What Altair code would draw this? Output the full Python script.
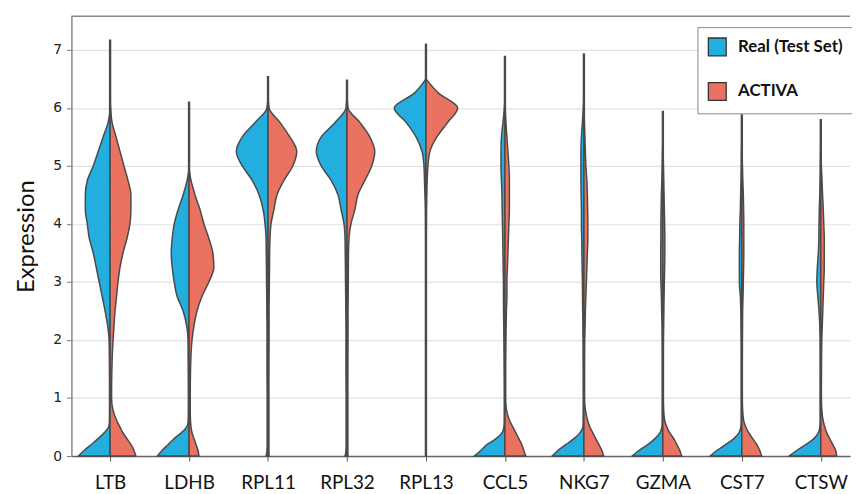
import altair as alt
import pandas as pd

# ---- data ----
GENES = ["LTB", "LDHB", "RPL11", "RPL32", "RPL13", "CCL5", "NKG7", "GZMA", "CST7", "CTSW"]
SERIES = ["Real (Test Set)", "ACTIVA"]
COLORS = ["#23AEE0", "#EA7260"]

# top of the thin violin tail (max expression) per gene
LINE_TOP = [7.18, 6.11, 6.55, 6.49, 7.11, 6.90, 6.94, 5.95, 5.89, 5.81]

# expression levels at which the half-violin widths were read
Y_LEVELS = [0, 0.1, 0.2, 0.3, 0.4, 0.5, 0.6, 0.8, 1.0, 1.5, 2.0, 2.25, 2.5, 2.75, 3.0,
            3.25, 3.5, 3.75, 4.0, 4.25, 4.5, 4.75, 5.0, 5.25, 5.5, 5.75, 6.0, 6.25, 6.5]

# half-violin density widths (relative units) for Real (Test Set)
REAL_LTB = [32, 26, 19, 12, 6, 1.5, 0.6, 0.5, 0.5, 0.6, 1, 2.5, 5, 8, 11, 14, 17, 21, 23, 25, 25, 23, 17, 12, 7, 2, 0, 0, 0]
REAL_LDHB = [32, 27, 21, 15, 8, 2.5, 0.8, 0.6, 0.6, 0.8, 1, 2.5, 6, 12, 15, 17, 18, 17, 15, 11, 6, 2, 0, 0, 0, 0, 0, 0, 0]
REAL_RPL11 = [2, 1, 0.8, 0.8, 0.8, 0.8, 0.8, 0.8, 0.8, 1, 1, 1, 1.2, 1.3, 1.5, 1.6, 1.8, 2, 3, 5, 9, 16, 26, 32, 26, 13, 1, 0, 0]
REAL_RPL32 = [2, 1, 0.8, 0.8, 0.8, 0.8, 0.8, 0.8, 0.8, 1, 1, 1, 1.2, 1.3, 1.5, 1.6, 1.8, 2, 3, 6, 9, 16, 26, 31, 26, 12, 1, 0, 0]
REAL_RPL13 = [0.3, 0.3, 0.3, 0.3, 0.3, 0.3, 0.3, 0.3, 0.3, 0.3, 0.3, 0.3, 0.3, 0.3, 0.3, 0.3, 0.3, 0.3, 0.4, 0.5, 1, 1.5, 2, 4, 10, 20, 32, 12, 0]
REAL_CCL5 = [31, 24, 18, 9, 3, 1, 0.6, 0.5, 0.5, 0.7, 1, 1.2, 1.4, 1.5, 1.5, 1.8, 2, 2.2, 2.5, 2.8, 3, 3.5, 4, 4, 3.5, 2, 0.5, 0, 0]
REAL_NKG7 = [32, 26, 18, 10, 4, 1, 0.6, 0.5, 0.5, 0.6, 0.8, 1, 1.2, 1.4, 1.5, 1.8, 2, 2.2, 2.5, 2.5, 2.8, 3, 3, 3, 2.5, 1.5, 0.5, 0, 0]
REAL_GZMA = [31, 24, 15, 8, 3, 1, 0.5, 0.5, 0.5, 0.5, 0.6, 0.8, 1.2, 1.5, 2, 2.2, 2.2, 2, 2, 1.8, 1.5, 1, 0.6, 0.3, 0, 0, 0, 0, 0]
REAL_CST7 = [32, 25, 16, 8, 3, 1, 0.5, 0.5, 0.5, 0.5, 0.6, 0.8, 1, 1.5, 2.5, 2.5, 2.5, 2.2, 2, 1.5, 1.2, 0.8, 0.5, 0.3, 0, 0, 0, 0, 0]
REAL_CTSW = [32, 24, 15, 7, 2.5, 1, 0.5, 0.5, 0.5, 0.5, 0.6, 1, 1.8, 3, 4, 3.5, 2.5, 2, 1.8, 1.5, 1, 0.6, 0.4, 0.2, 0, 0, 0, 0, 0]

# half-violin density widths (relative units) for ACTIVA
ACTIVA_LTB = [26, 24, 21, 17, 13, 10, 7, 2.8, 1.5, 1.8, 3, 4, 5, 6.5, 8, 10, 13, 17, 20, 21, 21, 18, 14, 10, 6, 2, 0.5, 0, 0]
ACTIVA_LDHB = [10, 9, 7, 5, 3, 2, 1.5, 1.2, 1.2, 1.5, 3, 5, 8, 13, 20, 25, 24, 20, 15, 11, 6, 2, 0, 0, 0, 0, 0, 0, 0]
ACTIVA_RPL11 = [1, 0.8, 0.8, 0.8, 0.8, 0.8, 0.8, 0.8, 0.8, 0.8, 1, 1, 1, 1.2, 1.3, 1.5, 1.6, 2, 3, 6, 9, 16, 25, 29, 22, 12, 1, 0, 0]
ACTIVA_RPL32 = [1, 0.8, 0.8, 0.8, 0.8, 0.8, 0.8, 0.8, 0.8, 0.8, 1, 1, 1, 1.2, 1.3, 1.4, 1.5, 2, 4, 8, 11, 18, 25, 28, 23, 13, 1, 0, 0]
ACTIVA_RPL13 = [0.3, 0.3, 0.3, 0.3, 0.3, 0.3, 0.3, 0.3, 0.3, 0.3, 0.3, 0.3, 0.3, 0.3, 0.3, 0.3, 0.3, 0.3, 0.4, 0.5, 0.8, 1.2, 2, 4, 11, 22, 32, 13, 0]
ACTIVA_CCL5 = [21, 19, 17, 14, 11, 8, 5, 1.5, 0.7, 0.7, 1, 1.2, 1.5, 2, 2, 2.5, 3, 3.5, 4, 4.5, 4.5, 4.5, 4, 3, 2, 1, 0.3, 0, 0]
ACTIVA_NKG7 = [20, 18, 15, 12, 9, 6, 4, 1.5, 0.6, 0.6, 0.8, 1.2, 1.5, 2, 2.5, 3, 3.5, 4, 4, 3.8, 3.5, 3, 2, 1.5, 1, 0.5, 0.2, 0, 0]
ACTIVA_GZMA = [19, 17, 14, 11, 7, 4, 2, 0.8, 0.5, 0.5, 0.6, 0.8, 1, 1.2, 1.5, 1.8, 2, 2, 1.8, 1.5, 1.2, 0.9, 0.6, 0.3, 0, 0, 0, 0, 0]
ACTIVA_CST7 = [20, 18, 15, 11, 7, 4, 2, 0.8, 0.5, 0.5, 0.6, 0.7, 0.8, 1.2, 1.5, 1.8, 2, 2, 2, 1.8, 1.5, 1, 0.6, 0.3, 0, 0, 0, 0, 0]
ACTIVA_CTSW = [16, 15, 12, 9, 6, 4, 2.5, 1, 0.6, 0.7, 1, 1.5, 2, 2.5, 3, 3.5, 3.5, 3.5, 3, 2.5, 1.8, 1.2, 0.6, 0.3, 0, 0, 0, 0, 0]

REAL = [REAL_LTB, REAL_LDHB, REAL_RPL11, REAL_RPL32, REAL_RPL13,
        REAL_CCL5, REAL_NKG7, REAL_GZMA, REAL_CST7, REAL_CTSW]
ACTIVA = [ACTIVA_LTB, ACTIVA_LDHB, ACTIVA_RPL11, ACTIVA_RPL32, ACTIVA_RPL13,
          ACTIVA_CCL5, ACTIVA_NKG7, ACTIVA_GZMA, ACTIVA_CST7, ACTIVA_CTSW]

# ---- build tables ----
WIDTH_UNIT = 79.7  # density units per category step
rows = []
for gi, gene in enumerate(GENES):
    for series, widths, sign in ((SERIES[0], REAL[gi], -1), (SERIES[1], ACTIVA[gi], 1)):
        for yv, w in zip(Y_LEVELS, widths):
            if yv > LINE_TOP[gi]:
                continue
            rows.append({"gene": gene, "series": series, "y": yv,
                         "center": gi, "edge": gi + sign * w / WIDTH_UNIT})
violins = pd.DataFrame(rows)

tails = pd.DataFrame({"gene": GENES, "center": list(range(len(GENES))),
                      "low": [0] * len(GENES), "top": LINE_TOP})

W, H = 786, 444
xscale = alt.Scale(domain=[-0.49, 9.37], nice=False, zero=False)
yscale = alt.Scale(domain=[0, 7.58], nice=False, zero=False)

label_expr = "[" + ",".join("'%s'" % g for g in GENES) + "][datum.value]"
xaxis = alt.Axis(values=list(range(len(GENES))), labelExpr=label_expr, title=None,
                 grid=False, tickSize=5, tickColor="#555", domainColor="#666",
                 domainWidth=1.5, labelFont="Lato", labelFontSize=19,
                 labelColor="#111", labelPadding=13)
yaxis = alt.Axis(values=list(range(8)), format="d", title="Expression",
                 titleFont="Lato", titleFontSize=24, titleFontWeight="normal",
                 titleColor="#111", titlePadding=14, labelFont="DejaVu Sans",
                 labelFontSize=14, labelColor="#222", labelPadding=5, tickSize=5,
                 tickColor="#777", domainColor="#888", domainWidth=1.5,
                 grid=True, gridColor="#e2e2e2", gridWidth=1.2)

tail_layer = alt.Chart(tails).mark_rule(color="#4a4a4a", strokeWidth=2.4).encode(
    x=alt.X("center:Q", scale=xscale, axis=xaxis),
    y=alt.Y("low:Q", scale=yscale, axis=yaxis),
    y2="top:Q",
)

violin_layer = alt.Chart(violins).mark_area(
    orient="horizontal", interpolate="monotone", stroke="#4a4a4a",
    strokeWidth=1.5, fillOpacity=1, opacity=1
).encode(
    y=alt.Y("y:Q", scale=yscale),
    x=alt.X("edge:Q", scale=xscale),
    x2="center:Q",
    color=alt.Color("series:N", scale=alt.Scale(domain=SERIES, range=COLORS),
                    legend=alt.Legend(title=None, orient="none", legendX=632, legendY=11,
                                      direction="vertical", symbolType="square",
                                      symbolSize=324, symbolStrokeColor="#333",
                                      symbolStrokeWidth=1.3, symbolOpacity=1,
                                      labelFont="Lato", labelFontSize=17,
                                      labelFontWeight="bold", labelColor="#111",
                                      labelOffset=11, rowPadding=21, padding=10,
                                      fillColor="white", strokeColor="#888")),
    detail="gene:N",
)

frame = alt.Chart(pd.DataFrame({"a": [0]})).mark_rule(color="#888", strokeWidth=1.5).encode(
    x=alt.value(0), x2=alt.value(W), y=alt.value(0)
)

chart = alt.layer(tail_layer, violin_layer, frame).properties(
    width=W, height=H,
    autosize=alt.AutoSizeParams(type="none"),
    padding={"left": 64, "top": 6, "right": 2, "bottom": 36},
    background="white",
).configure_view(stroke=None)

chart.save("out.html", embed_options={"renderer": "svg", "actions": False})
